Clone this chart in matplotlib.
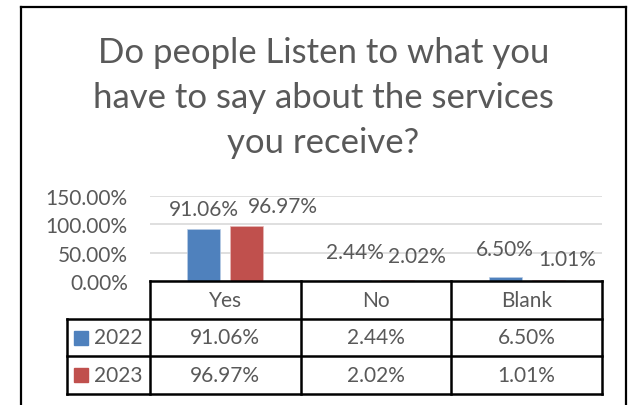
import matplotlib.pyplot as plt
from matplotlib.lines import Line2D

categories = ["Yes", "No", "Blank"]
years = ["2022", "2023"]
values_2022 = [91.06, 2.44, 6.50]
values_2023 = [96.97, 2.02, 1.01]
y_ticks = [0, 50, 100, 150]

title = "Do people Listen to what you\nhave to say about the services\nyou receive?"

blue = "#4F81BD"
red = "#C0504D"
grey = "#595959"
font = "Lato"

W, H = 630, 406
fig = plt.figure(figsize=(W / 100, H / 100), dpi=100)


def fx(px):
    return px / W


def fy(py):
    return 1 - py / H


# outer chart frame (bottom edge runs off the image)
for xs, ys in [((21, 21), (8, 406)), ((21, 626), (8, 8)), ((626, 626), (8, 406))]:
    fig.add_artist(Line2D([fx(x) for x in xs], [fy(y) for y in ys], color="black", lw=1.6))

fig.text(fx(323.5), fy(98), title, ha="center", va="center", fontsize=25,
         color=grey, family=font, linespacing=1.5)

# bar plot area
ax = fig.add_axes([fx(150), fy(282), fx(602) - fx(150), fy(197) - fy(282)])
x = list(range(len(categories)))
off, bw = 0.143, 0.22
ax.bar([i - off for i in x], values_2022, bw, color=blue, edgecolor="#B9CDE5", lw=0.5, zorder=3)
ax.bar([i + off for i in x], values_2023, bw, color=red, edgecolor="#E6B9B8", lw=0.5, zorder=3)
ax.set_xlim(-0.5, 2.5)
ax.set_ylim(0, 150)
ax.set_yticks(y_ticks)
ax.set_yticklabels([f"{v:.2f}%" for v in y_ticks], fontsize=15, color=grey, family=font)
ax.tick_params(axis="y", length=0, pad=16)
ax.set_xticks([])
for s in ax.spines.values():
    s.set_visible(False)
ax.grid(axis="y", color="#D9D9D9", lw=1.2, zorder=0)

# data labels, nudged so neighbours don't collide
blue_dy = [7.5, 12.5, 13]
red_dx = [26, 14, 14]
red_dy = [7, 10, 8]
for i, (v1, v2) in enumerate(zip(values_2022, values_2023)):
    ax.annotate(f"{v1:.2f}%", (i - off, v1), xytext=(0, blue_dy[i]), textcoords="offset points",
                ha="center", va="bottom", fontsize=15, color=grey, family=font, annotation_clip=False)
    ax.annotate(f"{v2:.2f}%", (i + off, v2), xytext=(red_dx[i], red_dy[i]), textcoords="offset points",
                ha="center", va="bottom", fontsize=15, color=grey, family=font, annotation_clip=False)

# data table under the plot
tax = fig.add_axes([fx(67), fy(395), fx(602) - fx(67), fy(282) - fy(395)])
lab_w = 83 / 150.67
tax.set_xlim(-0.5 - lab_w, 2.5)
tax.set_ylim(0, 3)
tax.axis("off")
lk = dict(color="black", lw=1.8, solid_capstyle="projecting", clip_on=False)
tax.plot([-0.5, 2.5], [3, 3], **lk)
for yy in (0, 1, 2):
    tax.plot([-0.5 - lab_w, 2.5], [yy, yy], **lk)
tax.plot([-0.5 - lab_w, -0.5 - lab_w], [0, 2], **lk)
for xx in (-0.5, 0.5, 1.5, 2.5):
    tax.plot([xx, xx], [0, 3], **lk)

txt = dict(ha="center", va="center", fontsize=15, color=grey, family=font)
for i, c in enumerate(categories):
    tax.text(i, 2.5, c, **txt)
    tax.text(i, 1.5, f"{values_2022[i]:.2f}%", **txt)
    tax.text(i, 0.5, f"{values_2023[i]:.2f}%", **txt)

for row, (yr, col) in enumerate(zip(years, [blue, red])):
    yy = 1.5 - row
    tax.plot([-0.5 - lab_w + 0.09], [yy], marker="s", markersize=10, color=col, clip_on=False)
    tax.text(-0.5 - lab_w + 0.18, yy, yr, ha="left", va="center", fontsize=15, color=grey, family=font)

fig.savefig("out.png", dpi=100)
